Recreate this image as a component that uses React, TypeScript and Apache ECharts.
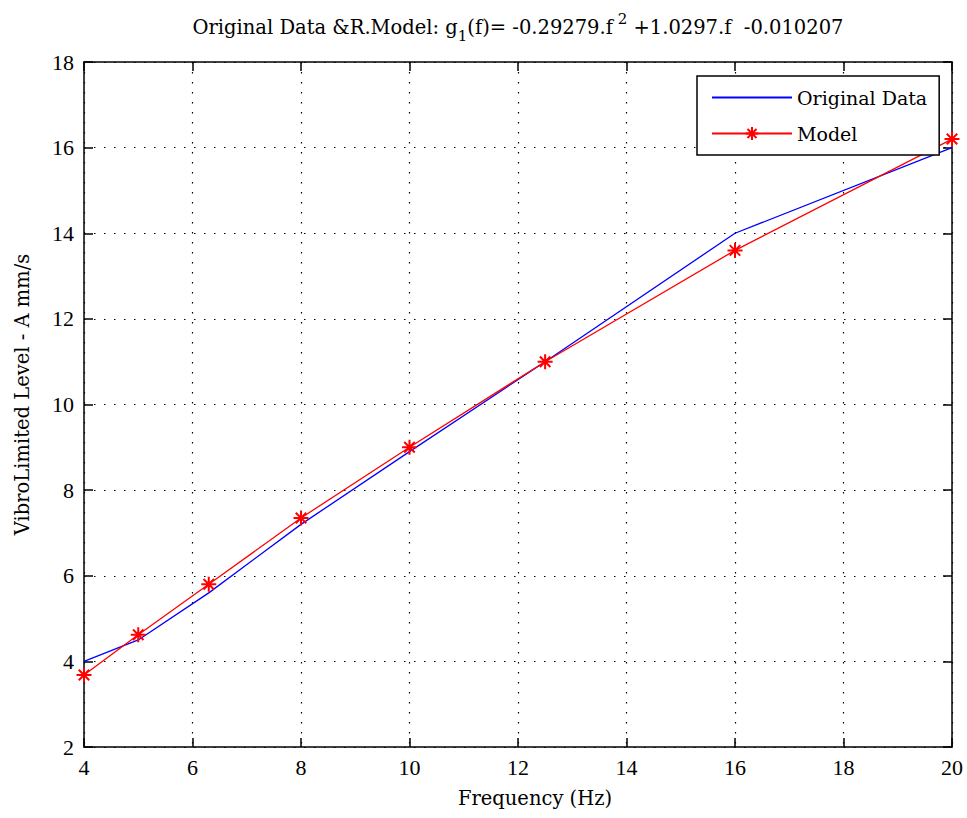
import React, { useEffect, useRef } from "react";
import * as echarts from "echarts";

const freqs = [4, 5, 6.3, 8, 10, 12.5, 16, 20];
const originalData = [4.0, 4.5, 5.6, 7.2, 8.9, 11.0, 14.0, 16.0];
const modelData = [3.68, 4.62, 5.8, 7.35, 9.0, 11.0, 13.6, 16.2];
const seriesNames = ["Original Data", "Model"];
const titleText = {
  pre: "Original Data &R.Model: g",
  sub: "1",
  mid: "(f)= -0.29279.f",
  sup: " 2",
  post: " +1.0297.f  -0.010207",
};
const xName = "Frequency (Hz)";
const yName = "VibroLimited Level - A mm/s";

const FONT = "'DejaVu Serif', 'Liberation Serif', serif";
const TICKFONT = "'Liberation Serif', 'Times New Roman', serif";
const starPath = "path://M0,-10L0,10M-10,0L10,0M-7,-7L7,7M-7,7L7,-7";

export default function App() {
  const ref = useRef<HTMLDivElement>(null);
  useEffect(() => {
    if (!ref.current) return;
    const chart = echarts.init(ref.current, null, { renderer: "svg" });
    const axisCommon = {
      type: "value",
      interval: 2,
      axisLine: { show: true, lineStyle: { color: "#000", width: 1.5 } },
      axisTick: { show: true, inside: true, length: 9, lineStyle: { color: "#000", width: 1.5 } },
      splitLine: { show: false },
    };
    chart.setOption({
      animation: false,
      backgroundColor: "#fff",
      title: {
        text: `{a|${titleText.pre}}{s|${titleText.sub}}{a|${titleText.mid}}{p|${titleText.sup}}{a|${titleText.post}}`,
        left: 513,
        top: 6,
        textAlign: "center",
        textStyle: {
          fontFamily: FONT,
          fontWeight: "normal",
          rich: {
            a: { fontFamily: FONT, fontWeight: "normal", fontSize: 19.5, color: "#000", lineHeight: 32, verticalAlign: "middle" },
            s: { fontFamily: FONT, fontWeight: "normal", fontSize: 15, color: "#000", lineHeight: 32, verticalAlign: "bottom" },
            p: { fontFamily: FONT, fontWeight: "normal", fontSize: 15, color: "#000", lineHeight: 32, verticalAlign: "top" },
          },
        },
      },
      legend: {
        orient: "vertical",
        left: 697,
        top: 76,
        padding: [12, 12, 12, 14],
        itemWidth: 80,
        itemHeight: 16,
        itemGap: 17,
        borderColor: "#000",
        borderWidth: 1.5,
        backgroundColor: "#fff",
        textStyle: { fontFamily: FONT, fontSize: 19, color: "#000" },
        data: [
          { name: seriesNames[0], itemStyle: { opacity: 0 } },
          { name: seriesNames[1] },
        ],
      },
      grid: { left: 84, right: 15, top: 62, bottom: 71 },
      xAxis: [
        {
          ...axisCommon,
          min: 4,
          max: 20,
          position: "bottom",
          name: xName,
          nameLocation: "middle",
          nameGap: 41,
          nameTextStyle: { fontFamily: FONT, fontSize: 19.5, color: "#000", padding: [0, 0, 0, 34] },
          axisLabel: { fontFamily: TICKFONT, fontSize: 22, color: "#000", margin: 9 },
          splitLine: { show: true, lineStyle: { color: "#000", width: 1.2, type: [1.5, 8.5] } },
        },
        {
          ...axisCommon,
          min: 4,
          max: 20,
          position: "top",
          axisLabel: { show: false },
        },
      ],
      yAxis: [
        {
          ...axisCommon,
          min: 2,
          max: 18,
          position: "left",
          name: yName,
          nameLocation: "middle",
          nameGap: 52,
          nameTextStyle: { fontFamily: FONT, fontSize: 19.5, color: "#000", padding: [0, 0, 0, 20] },
          axisLabel: { fontFamily: TICKFONT, fontSize: 22, color: "#000", margin: 10 },
          splitLine: { show: true, lineStyle: { color: "#000", width: 1.2, type: [1.5, 8.5] } },
        },
        {
          ...axisCommon,
          min: 2,
          max: 18,
          position: "right",
          axisLabel: { show: false },
        },
      ],
      series: [
        {
          name: seriesNames[0],
          type: "line",
          xAxisIndex: 0,
          yAxisIndex: 0,
          data: freqs.map((f, i) => [f, originalData[i]]),
          symbol: "none",
          lineStyle: { color: "#0000ff", width: 1.3 },
          itemStyle: { color: "#0000ff" },
        },
        {
          name: seriesNames[1],
          type: "line",
          xAxisIndex: 0,
          yAxisIndex: 0,
          data: freqs.map((f, i) => [f, modelData[i]]),
          symbol: starPath,
          symbolSize: 15,
          showSymbol: true,
          lineStyle: { color: "#ff0000", width: 1.3 },
          itemStyle: { color: "#ff0000", borderColor: "#ff0000", borderWidth: 2 },
        },
      ],
    });
    return () => chart.dispose();
  }, []);
  return (
    <div
      ref={ref}
      style={{ position: "fixed", left: 0, top: 0, width: 967, height: 818, background: "#fff" }}
    />
  );
}
